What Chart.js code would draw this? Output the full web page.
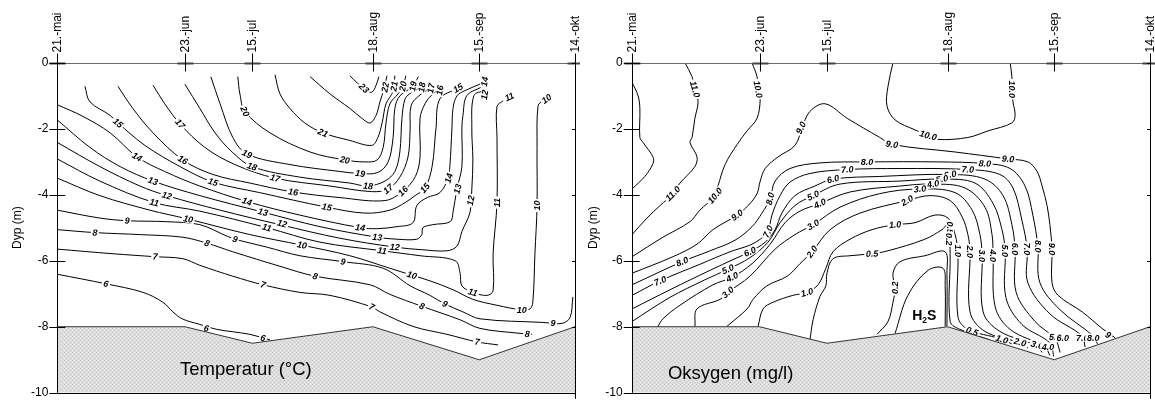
<!DOCTYPE html>
<html lang="no">
<head>
<meta charset="utf-8">
<title>Temperatur og oksygen</title>
<script src="https://cdn.jsdelivr.net/npm/chart.js@4.4.1/dist/chart.umd.min.js"></script>
<style>
  html, body { margin: 0; padding: 0; background: #fff; }
  #wrap { position: relative; width: 1155px; height: 409px; overflow: hidden; }
  .panel { position: absolute; top: 0; height: 409px; }
  #tempBox { left: 0; width: 580px; }
  #oxyBox { left: 580px; width: 575px; }
</style>
</head>
<body>
<div id="wrap">
  <div class="panel" id="tempBox"><canvas id="tempChart"></canvas></div>
  <div class="panel" id="oxyBox"><canvas id="oxyChart"></canvas></div>
</div>
<script>
// sampling dates, as days after 21 May, and their labels on the top axis
const dateDays = [0, 36, 55, 89, 119, 146];
const dateLabels = ['21.-mai', '23.-jun', '15.-jul', '18.-aug', '15.-sep', '14.-okt'];
const depthTicks = [0, -2, -4, -6, -8, -10];

// lake bottom (sediment surface) at each sampling date
const bottomDepth = [-8, -8, -8.5, -8, -9, -8];

// isotherms, points are [day, depth m]
const t6 = [[0,-6.41],[13.7,-6.70],[24.2,-6.96],[29.8,-7.26],[32.6,-7.55],[35.2,-7.76],[40.2,-7.93],[45.0,-8.08],[54.3,-8.23],[60.0,-8.40]];
const t7 = [[0,-5.65],[15.7,-5.79],[27.6,-5.88],[35.4,-5.94],[40.2,-6.14],[49.5,-6.47],[58.0,-6.73],[68.4,-6.96],[76.9,-7.05],[88.7,-7.40],[91.0,-7.55],[100.3,-7.99],[109.9,-8.23],[118.4,-8.46],[124.3,-8.55]];
const t8 = [[0,-5.06],[10.6,-5.15],[23.3,-5.21],[35.4,-5.29],[42.2,-5.47],[49.5,-5.73],[62.8,-6.17],[72.7,-6.47],[88.2,-6.73],[93.8,-7.02],[102.8,-7.38],[113.6,-7.79],[119.2,-8.05],[130.5,-8.20],[133.9,-8.23]];
const t9 = [[0,-4.47],[12.0,-4.71],[19.7,-4.79],[30.9,-4.82],[40.2,-4.91],[47.9,-5.26],[50.1,-5.35],[59.1,-5.59],[68.4,-5.85],[80.6,-6.03],[91.9,-6.23],[99.5,-6.76],[105.1,-7.05],[109.3,-7.31],[114.4,-7.55],[119.2,-7.76],[137.0,-7.87],[142.3,-7.90],[144.6,-7.72],[145.4,-7.10]];
const t10 = [[0,-3.50],[12.0,-4.03],[26.1,-4.47],[36.9,-4.74],[54.3,-5.21],[69.0,-5.53],[82.5,-5.85],[93.8,-6.23],[100.0,-6.44],[105.1,-6.61],[111.6,-6.88],[117.2,-7.17],[124.0,-7.35],[131.0,-7.49],[133.3,-7.46],[134.1,-7.26],[134.7,-5.79],[135.3,-4.33],[135.3,-2.57],[135.6,-1.30],[137.0,-1.16]];
const t11 = [[0,-2.92],[12.0,-3.59],[27.3,-4.24],[40.2,-4.50],[59.1,-5.00],[74.1,-5.44],[91.6,-5.70],[102.3,-5.85],[112.2,-6.00],[113.6,-6.38],[114.1,-6.76],[117.2,-6.96],[121.2,-7.05],[122.9,-6.91],[122.9,-5.79],[124.0,-4.24],[124.0,-2.27],[124.0,-1.33],[125.7,-1.16]];
const t12 = [[0,-2.42],[12.0,-3.15],[23.3,-3.74],[30.9,-4.03],[45.9,-4.47],[62.8,-4.91],[79.7,-5.32],[95.2,-5.59],[103.1,-5.67],[109.9,-5.70],[112.7,-5.56],[114.1,-5.12],[116.4,-4.53],[116.9,-3.83],[117.2,-2.95],[116.9,-1.98],[117.5,-1.0],[120.5,-0.85]];
const t13 = [[0,-1.74],[9.2,-2.57],[17.7,-3.15],[27.0,-3.59],[40.2,-4.03],[58.0,-4.53],[74.1,-4.97],[90.2,-5.29],[95.8,-5.35],[101.4,-5.35],[102.8,-5.21],[103.1,-5.00],[105.9,-4.91],[110.8,-4.82],[111.6,-4.53],[112.7,-3.83],[114.1,-3.15],[114.1,-1.98],[114.4,-1.60],[115.5,-1.0],[119.5,-0.75]];
const t14 = [[0,-1.28],[7.2,-1.63],[14.9,-2.13],[22.5,-2.86],[30.3,-3.30],[40.2,-3.74],[53.5,-4.21],[68.4,-4.62],[85.4,-5.00],[90.2,-5.03],[95.8,-4.97],[100.3,-4.85],[101.4,-4.33],[104.3,-4.09],[107.9,-3.94],[110.2,-3.50],[110.7,-3.15],[111.3,-1.98],[111.6,-1.39],[112.7,-1.01],[115.0,-0.85],[120.0,-0.62]];
const t15 = [[7.8,-0.72],[9.2,-1.19],[14.9,-1.60],[17.1,-1.83],[24.7,-2.51],[34.6,-3.15],[43.9,-3.62],[57.1,-3.94],[76.0,-4.38],[86.8,-4.56],[93.8,-4.47],[98.1,-4.24],[100.9,-4.03],[103.7,-3.80],[105.7,-3.15],[106.8,-1.98],[107.9,-1.10],[113.0,-0.78]];
const t16 = [[17.1,-0.72],[21.3,-1.39],[27.0,-2.13],[35.4,-2.95],[43.9,-3.39],[54.3,-3.65],[66.5,-3.92],[79.7,-4.09],[92.4,-4.18],[97.5,-3.89],[101.0,-3.45],[102.3,-2.86],[102.3,-1.69],[103.7,-1.25],[105.9,-0.95],[107.9,-0.84]];
const t17 = [[27.0,-0.69],[30.3,-1.25],[34.6,-1.86],[41.6,-2.57],[50.1,-3.09],[61.4,-3.50],[76.9,-3.74],[88.7,-3.91],[93.3,-3.83],[96.6,-3.47],[98.9,-2.86],[99.5,-2.04],[99.8,-1.30],[102.3,-0.98],[105.4,-0.78]];
const t18 = [[36.0,-0.66],[40.2,-1.39],[44.5,-2.13],[49.3,-2.71],[54.9,-3.15],[68.4,-3.47],[82.5,-3.65],[87.6,-3.74],[92.4,-3.59],[95.2,-3.30],[96.6,-2.71],[97.2,-1.69],[98.1,-1.10],[100.0,-0.90],[102.8,-0.75]];
const t19 = [[43.3,-0.43],[45.9,-1.25],[49.5,-2.27],[53.5,-2.77],[65.6,-3.09],[79.7,-3.30],[85.4,-3.36],[90.4,-3.33],[93.3,-3.01],[94.7,-2.27],[95.2,-1.39],[96.6,-1.01],[100.3,-0.72],[101.8,-0.43]];
const t20 = [[50.9,-0.43],[51.5,-0.95],[52.9,-1.48],[60.0,-2.13],[71.3,-2.71],[81.1,-2.95],[86.8,-3.01],[90.2,-2.95],[91.9,-2.57],[92.7,-1.83],[93.8,-1.25],[96.1,-0.95],[97.5,-0.72],[98.3,-0.40]];
const t21 = [[61.4,-0.37],[62.8,-0.95],[65.6,-1.39],[69.8,-1.83],[74.9,-2.13],[82.5,-2.36],[88.7,-2.51],[90.4,-2.27],[91.6,-1.83],[92.7,-1.25],[94.7,-0.87],[95.2,-0.40]];
const t22 = [[71.3,-0.43],[76.9,-0.95],[82.5,-1.39],[85.9,-1.69],[88.2,-1.83],[89.9,-1.60],[91.0,-1.19],[92.1,-0.81],[92.98,-0.40]];
const t23 = [[82.5,-0.40],[84.7,-0.63],[86.8,-0.81],[88.7,-0.90],[89.9,-0.69],[90.7,-0.43]];
const tempLines = [t6, t7, t8, t9, t10, t11, t12, t13, t14, t15, t16, t17, t18, t19, t20, t21, t22, t23];

// isotherm labels: [day, depth, text, angle in degrees]
const tempLabels = [
  [13.7,-6.70,'6',15], [42.0,-8.05,'6',12], [58.0,-8.34,'6',15],
  [27.6,-5.88,'7',3], [58.0,-6.73,'7',18], [88.7,-7.40,'7',25], [118.4,-8.46,'7',8],
  [10.6,-5.15,'8',3], [42.2,-5.47,'8',18], [72.7,-6.47,'8',15], [102.8,-7.38,'8',22], [132.5,-8.22,'8',5],
  [19.7,-4.79,'9',3], [50.1,-5.35,'9',18], [80.6,-6.03,'9',10], [109.3,-7.31,'9',22], [139.8,-7.90,'9',0],
  [36.9,-4.74,'10',12], [69.0,-5.53,'10',12], [100.0,-6.44,'10',17], [131.0,-7.49,'10',0], [135.3,-4.33,'10',-90], [138.0,-1.10,'10',-35],
  [27.3,-4.24,'11',12], [59.1,-5.00,'11',15], [91.6,-5.70,'11',8], [117.2,-6.96,'11',15], [124.0,-4.24,'11',-90], [127.5,-1.04,'11',-25],
  [30.9,-4.03,'12',15], [63.4,-4.88,'12',15], [95.2,-5.59,'12',5], [116.6,-4.18,'12',-80], [120.5,-0.98,'12',-80],
  [27.0,-3.59,'13',18], [58.0,-4.53,'13',15], [90.2,-5.29,'13',5], [112.9,-3.83,'13',-75],
  [22.5,-2.86,'14',30], [53.5,-4.21,'14',18], [85.4,-5.00,'14',8], [110.4,-3.50,'14',-75], [120.5,-0.58,'14',-80],
  [17.1,-1.83,'15',40], [43.9,-3.62,'15',20], [76.0,-4.38,'15',12], [103.7,-3.80,'15',-50], [113.0,-0.78,'15',-30],
  [35.4,-2.95,'16',30], [66.5,-3.92,'16',8], [97.5,-3.89,'16',-45], [107.9,-0.84,'16',-80],
  [34.6,-1.86,'17',50], [61.4,-3.50,'17',15], [93.3,-3.83,'17',-40], [105.4,-0.78,'17',-80],
  [54.9,-3.15,'18',20], [87.6,-3.74,'18',5], [102.8,-0.75,'18',-80],
  [53.5,-2.77,'19',25], [85.4,-3.36,'19',8], [100.3,-0.72,'19',-80],
  [52.9,-1.48,'20',65], [81.1,-2.95,'20',10], [97.5,-0.72,'20',-80],
  [74.9,-2.13,'21',25], [95.0,-0.72,'21',-80],
  [92.5,-0.75,'22',-80],
  [86.5,-0.78,'23',45]
];

// oxygen isolines, points are [day, depth m]
const o12 = [[0.1,-0.60],[1.8,-1.01],[2.3,-1.39],[2.3,-2.27],[3.2,-2.42],[6.0,-2.86],[6.0,-3.06],[3.7,-3.45],[0.1,-3.83]];
const o11 = [[15.0,-0.01],[17.0,-0.43],[17.8,-0.81],[18.7,-1.19],[17.8,-1.69],[17.0,-2.27],[16.4,-2.42],[18.4,-2.86],[17.8,-3.15],[13.6,-3.65],[11.6,-3.97],[8.0,-4.33],[4.3,-4.71],[0.1,-5.21]];
const o10a = [[33.9,-0.01],[35.3,-0.43],[35.6,-0.81],[36.2,-1.10],[35.3,-1.69],[32.5,-2.07],[29.7,-2.48],[26.3,-3.09],[24.3,-3.74],[23.5,-4.03],[19.2,-4.47],[16.4,-4.82],[8.8,-5.29],[0.1,-5.88]];
const o10b = [[73.6,-0.01],[72.2,-0.72],[71.9,-1.31],[74.2,-1.74],[79.8,-2.04],[83.5,-2.21],[86.3,-2.33],[94.7,-2.27],[100.4,-2.07],[107.1,-1.83],[108.0,-1.60],[107.4,-1.19],[107.1,-0.81],[107.1,-0.43],[106.6,-0.01]];
const o9 = [[0.1,-6.38],[11.6,-5.88],[18.4,-5.50],[22.9,-5.06],[29.7,-4.62],[32.8,-4.33],[35.3,-3.97],[36.2,-3.59],[37.6,-3.21],[41.2,-2.86],[46.0,-2.51],[48.0,-1.98],[50.2,-1.48],[54.5,-1.25],[60.7,-1.69],[69.9,-2.27],[73.3,-2.48],[91.1,-2.71],[106.0,-2.92],[111.6,-3.01],[114.2,-3.30],[115.6,-3.74],[117.0,-4.33],[117.8,-4.91],[118.4,-5.65],[118.4,-6.67],[120.1,-7.05],[126.9,-7.55],[132.5,-8.05],[136.2,-8.34]];
const o8 = [[0.1,-6.73],[14.2,-6.03],[22.1,-5.70],[29.1,-5.38],[33.9,-4.97],[36.7,-4.56],[39.0,-4.12],[40.4,-3.59],[44.6,-3.21],[53.0,-3.04],[66.3,-3.01],[86.8,-3.01],[99.5,-3.06],[106.6,-3.21],[110.8,-3.74],[113.0,-4.62],[114.4,-5.56],[115.0,-6.67],[120.7,-7.49],[130.0,-8.28],[131.2,-8.52]];
const o7 = [[0.1,-7.05],[8.0,-6.61],[19.2,-6.11],[27.7,-5.73],[33.3,-5.53],[36.2,-5.35],[38.4,-5.12],[39.5,-4.62],[41.8,-4.03],[44.6,-3.62],[50.2,-3.36],[60.7,-3.24],[75.6,-3.21],[94.7,-3.24],[103.7,-3.39],[107.4,-3.80],[109.9,-4.77],[111.4,-5.65],[111.6,-6.67],[117.8,-7.61],[126.9,-8.28],[127.7,-8.61]];
const o6 = [[0.1,-7.46],[10.8,-6.88],[22.1,-6.29],[29.1,-5.94],[33.3,-5.73],[37.6,-5.44],[40.4,-5.06],[42.3,-4.56],[46.0,-4.03],[51.6,-3.74],[56.7,-3.53],[69.9,-3.45],[89.7,-3.39],[99.5,-3.53],[104.6,-4.03],[107.1,-4.91],[108.0,-5.65],[108.3,-6.96],[113.6,-7.84],[119.3,-8.37],[120.7,-8.78]];
const o5 = [[0.1,-7.84],[10.8,-7.11],[20.6,-6.58],[27.1,-6.26],[33.3,-5.91],[38.4,-5.44],[41.8,-4.85],[46.0,-4.33],[51.1,-4.03],[58.7,-3.68],[75.6,-3.59],[87.4,-3.53],[96.7,-3.65],[101.8,-4.27],[104.3,-5.06],[105.2,-5.70],[105.4,-7.11],[109.9,-7.93],[117.8,-8.49],[118.9,-8.90]];
const o4 = [[7.4,-7.99],[8.8,-7.76],[13.6,-7.35],[22.9,-6.73],[28.3,-6.50],[33.9,-6.09],[39.0,-5.50],[43.2,-4.85],[47.4,-4.50],[53.0,-4.27],[61.5,-3.92],[75.6,-3.74],[84.9,-3.68],[93.9,-3.80],[99.5,-4.38],[101.5,-5.21],[101.8,-5.85],[102.4,-7.40],[106.6,-8.08],[116.4,-8.61],[117.8,-8.87]];
const o3 = [[17.8,-7.99],[18.4,-7.46],[24.9,-7.17],[27.1,-6.96],[33.3,-6.47],[40.4,-5.65],[46.0,-5.21],[51.1,-4.91],[58.7,-4.38],[69.9,-3.97],[81.2,-3.83],[91.1,-3.94],[95.9,-4.47],[98.1,-5.21],[98.7,-5.85],[99.0,-7.55],[103.7,-8.14],[114.2,-8.58],[115.6,-8.78]];
const o2 = [[26.8,-7.99],[32.5,-7.46],[34.2,-7.17],[38.1,-6.76],[43.8,-6.47],[47.4,-6.09],[50.8,-5.73],[55.9,-5.06],[64.3,-4.56],[77.6,-4.18],[84.0,-4.03],[89.7,-4.18],[93.1,-4.68],[94.7,-5.21],[95.3,-5.73],[95.3,-7.55],[99.5,-8.14],[109.4,-8.49],[111.6,-8.64]];
const o1 = [[35.6,-7.99],[37.0,-7.46],[39.8,-7.26],[45.4,-7.05],[49.4,-6.96],[52.5,-6.73],[54.7,-6.23],[56.7,-5.73],[61.5,-5.35],[67.7,-5.06],[74.2,-4.91],[79.8,-4.85],[85.4,-4.62],[89.1,-4.71],[91.1,-5.21],[91.9,-5.79],[91.9,-7.70],[94.7,-8.08],[103.7,-8.36],[107.1,-8.52]];
const o05 = [[50.2,-8.40],[51.1,-7.79],[53.0,-7.09],[54.7,-6.76],[55.0,-6.38],[56.7,-5.94],[61.5,-5.85],[67.7,-5.79],[72.2,-5.70],[82.6,-5.35],[87.4,-5.06],[89.1,-4.91],[89.7,-5.79],[89.7,-7.84],[92.5,-8.08],[100.9,-8.40]];
const o02 = [[69.1,-8.23],[72.2,-7.84],[73.6,-7.26],[74.2,-6.82],[73.6,-6.38],[75.6,-6.03],[82.6,-5.85],[88.3,-5.73],[88.8,-6.38],[88.8,-7.99]];
const oH2S = [[74.2,-8.20],[77.8,-7.05],[83.5,-6.29],[87.7,-6.23],[88.3,-6.76],[88.3,-7.99]];
const oxyLines = [o12, o11, o10a, o10b, o9, o8, o7, o6, o5, o4, o3, o2, o1, o05, o02, oH2S];

const oxyLabels = [
  [17.8,-0.81,'11.0',75], [35.6,-0.81,'10.0',80], [11.6,-3.97,'11.0',-45], [23.5,-4.03,'10.0',-50],
  [29.7,-4.62,'9.0',-35], [14.2,-6.03,'8.0',-22], [8.0,-6.61,'7.0',-22],
  [47.7,-1.98,'9.0',-65], [39.0,-4.12,'8.0',-75], [38.4,-5.12,'7.0',-65], [33.3,-5.73,'6.0',-25],
  [27.1,-6.26,'5.0',-25], [28.3,-6.50,'4.0',-25], [27.1,-6.96,'3.0',-40], [50.8,-5.73,'2.0',-55],
  [49.4,-6.96,'1.0',-15], [67.7,-5.79,'0.5',-3],
  [56.7,-3.53,'6.0',-15], [60.7,-3.24,'7.0',-5], [66.3,-3.01,'8.0',0], [51.1,-4.03,'5.0',-25],
  [53.0,-4.27,'4.0',-25], [51.1,-4.91,'3.0',-30],
  [107.1,-0.81,'10.0',90], [83.5,-2.21,'10.0',15], [73.3,-2.48,'9.0',8], [106.0,-2.92,'9.0',5],
  [99.5,-3.06,'8.0',3], [94.7,-3.24,'7.0',2], [89.7,-3.39,'6.0',-10], [87.4,-3.53,'5.0',-10],
  [84.9,-3.68,'4.0',-10], [81.2,-3.83,'3.0',-5], [77.6,-4.18,'2.0',-30], [74.2,-4.91,'1.0',-5],
  [89.7,-5.00,'0.5',90], [89.4,-5.35,'0.2',90], [74.2,-6.82,'0.2',-90],
  [91.9,-5.70,'1.0',90], [95.3,-5.73,'2.0',90], [98.7,-5.85,'3.0',90], [101.8,-5.85,'4.0',90],
  [105.2,-5.70,'5.0',90], [108.0,-5.65,'6.0',90], [111.4,-5.65,'7.0',90], [114.4,-5.56,'8.0',90], [118.4,-5.65,'9.0',90],
  [95.9,-8.14,'0.5',20], [104.3,-8.38,'1.0',18], [109.4,-8.47,'2.0',15], [114.2,-8.55,'3.0',15],
  [117.3,-8.60,'4.0',0], [119.3,-8.30,'5.0',0], [121.4,-8.35,'6.0',0], [126.9,-8.33,'7.0',0],
  [130.0,-8.33,'8.0',0], [134.2,-8.25,'9',30]
];

const FONT = '"Liberation Sans", Arial, Helvetica, sans-serif';

function toXY(pts) {
  return pts.map(([x, y]) => ({ x, y }));
}

// fine grey stipple used for the sediment
function stipple() {
  const c = document.createElement('canvas');
  c.width = 4; c.height = 4;
  const g = c.getContext('2d');
  g.fillStyle = '#dddddd';
  g.fillRect(0, 0, 4, 4);
  g.fillStyle = '#c9c9c9';
  g.fillRect(0, 0, 1, 1);
  g.fillRect(2, 2, 1, 1);
  g.fillStyle = '#e8e8e8';
  g.fillRect(2, 0, 1, 1);
  g.fillRect(0, 2, 1, 1);
  return g.createPattern(c, 'repeat');
}

function px(v) {
  return Math.round(v) + 0.5;
}

function seg(ctx, x1, y1, x2, y2) {
  ctx.beginPath();
  ctx.moveTo(x1, y1);
  ctx.lineTo(x2, y2);
  ctx.stroke();
}

function drawLabels(chart, labels) {
  const { ctx, scales: { x, y } } = chart;
  ctx.save();
  ctx.font = `italic bold 9px ${FONT}`;
  ctx.textAlign = 'center';
  ctx.textBaseline = 'middle';
  labels.forEach(([d, z, text, ang]) => {
    const w = ctx.measureText(text).width;
    ctx.save();
    ctx.translate(x.getPixelForValue(d), y.getPixelForValue(z));
    ctx.rotate(ang * Math.PI / 180);
    ctx.fillStyle = '#fff';
    ctx.fillRect(-w / 2 - 1.5, -4, w + 3, 8);
    ctx.fillStyle = '#000';
    ctx.fillText(text, 0, 0.5);
    ctx.restore();
  });
  ctx.restore();
}

function drawFrame(chart, cfg) {
  const { ctx, chartArea: a, scales: { x, y } } = chart;
  ctx.save();
  ctx.lineWidth = 1;

  // top axis with date labels
  ctx.strokeStyle = '#6a6a6a';
  seg(ctx, a.left, px(a.top), a.right, px(a.top));
  ctx.font = `12px ${FONT}`;
  ctx.fillStyle = '#000';
  ctx.textAlign = 'left';
  ctx.textBaseline = 'middle';
  dateDays.forEach((d, i) => {
    const xp = px(x.getPixelForValue(d));
    ctx.strokeStyle = '#444';
    ctx.lineWidth = 2;
    seg(ctx, xp - 8, px(a.top), xp + 8, px(a.top));
    ctx.lineWidth = 1;
    ctx.strokeStyle = '#000';
    seg(ctx, xp, a.top - 9, xp, a.top + 9);
    ctx.save();
    ctx.translate(xp + 0.5, a.top - 10);
    ctx.rotate(-Math.PI / 2);
    ctx.fillText(dateLabels[i], 0, 0);
    ctx.restore();
  });

  // left, right and bottom axes
  ctx.strokeStyle = '#000';
  seg(ctx, px(a.left), a.top, px(a.left), a.bottom);
  seg(ctx, px(a.right), a.top, px(a.right), a.bottom + 6);
  seg(ctx, a.left, px(a.bottom), a.right, px(a.bottom));
  depthTicks.forEach((z) => {
    const yp = px(y.getPixelForValue(z));
    seg(ctx, a.left - 8, yp, a.left + 8, yp);
    seg(ctx, a.right - 3, yp, a.right, yp);
  });

  // panel name inside the sediment
  ctx.font = `18.5px ${FONT}`;
  ctx.textBaseline = 'alphabetic';
  ctx.fillText(cfg.name, x.getPixelForValue(cfg.nameAt[0]), y.getPixelForValue(cfg.nameAt[1]));

  if (cfg.h2sAt) {
    let xp = x.getPixelForValue(cfg.h2sAt[0]);
    const yp = y.getPixelForValue(cfg.h2sAt[1]);
    ctx.font = `bold 14px ${FONT}`;
    ctx.fillText('H', xp, yp);
    xp += ctx.measureText('H').width;
    ctx.font = `bold 8.5px ${FONT}`;
    ctx.fillText('2', xp, yp + 3);
    xp += ctx.measureText('2').width;
    ctx.font = `bold 14px ${FONT}`;
    ctx.fillText('S', xp, yp);
  }
  ctx.restore();
}

function panelPlugin(cfg) {
  return {
    id: 'panel',
    afterDatasetDraw(chart, args) {
      // dataset 1 is the last isoline drawn, the sediment is drawn after it
      if (args.index === 1) drawLabels(chart, cfg.labels);
    },
    afterDraw(chart) {
      drawFrame(chart, cfg);
    }
  };
}

function makeChart(canvasId, lines, cfg) {
  const sediment = {
    data: toXY(dateDays.map((d, i) => [d, bottomDepth[i]])),
    showLine: true,
    fill: 'start',
    backgroundColor: stipple(),
    borderColor: '#333',
    borderWidth: 1,
    pointRadius: 0,
    tension: 0,
    order: 0
  };
  const isolines = lines.map((pts) => ({
    data: toXY(pts),
    showLine: true,
    fill: false,
    borderColor: '#000',
    borderWidth: 1,
    pointRadius: 0,
    tension: 0.35,
    order: 1
  }));

  return new Chart(document.getElementById(canvasId), {
    type: 'scatter',
    data: { datasets: [sediment, ...isolines] },
    options: {
      responsive: true,
      maintainAspectRatio: false,
      animation: false,
      events: [],
      layout: { padding: { left: 0, right: 5, top: 0, bottom: 5.5 } },
      plugins: { legend: { display: false }, tooltip: { enabled: false } },
      scales: {
        x: {
          type: 'linear',
          position: 'top',
          min: 0,
          max: 146,
          afterBuildTicks: (s) => { s.ticks = dateDays.map((v) => ({ value: v })); },
          afterFit: (s) => { s.height = 62.5; },
          ticks: { display: false },
          grid: { display: false, drawTicks: false },
          border: { display: false }
        },
        y: {
          type: 'linear',
          min: -10,
          max: 0,
          afterBuildTicks: (s) => { s.ticks = depthTicks.map((v) => ({ value: v })); },
          afterFit: (s) => { s.width = cfg.axisWidth; },
          ticks: {
            font: { family: FONT, size: 12 },
            color: '#000',
            padding: 9,
            callback: (v) => String(v)
          },
          grid: { display: false, drawTicks: false },
          border: { display: false },
          title: {
            display: true,
            text: 'Dyp (m)',
            color: '#000',
            font: { family: FONT, size: 12 },
            padding: { top: cfg.titlePad, bottom: 0 }
          }
        }
      }
    },
    plugins: [panelPlugin(cfg)]
  });
}

makeChart('tempChart', tempLines, {
  labels: tempLabels,
  name: 'Temperatur (\u00b0C)',
  nameAt: [34.6, -9.46],
  axisWidth: 57.3,
  titlePad: 10
});

makeChart('oxyChart', oxyLines, {
  labels: oxyLabels,
  name: 'Oksygen (mg/l)',
  nameAt: [10.2, -9.57],
  h2sAt: [79.0, -7.79],
  axisWidth: 51.7,
  titlePad: 6
});
</script>
</body>
</html>
